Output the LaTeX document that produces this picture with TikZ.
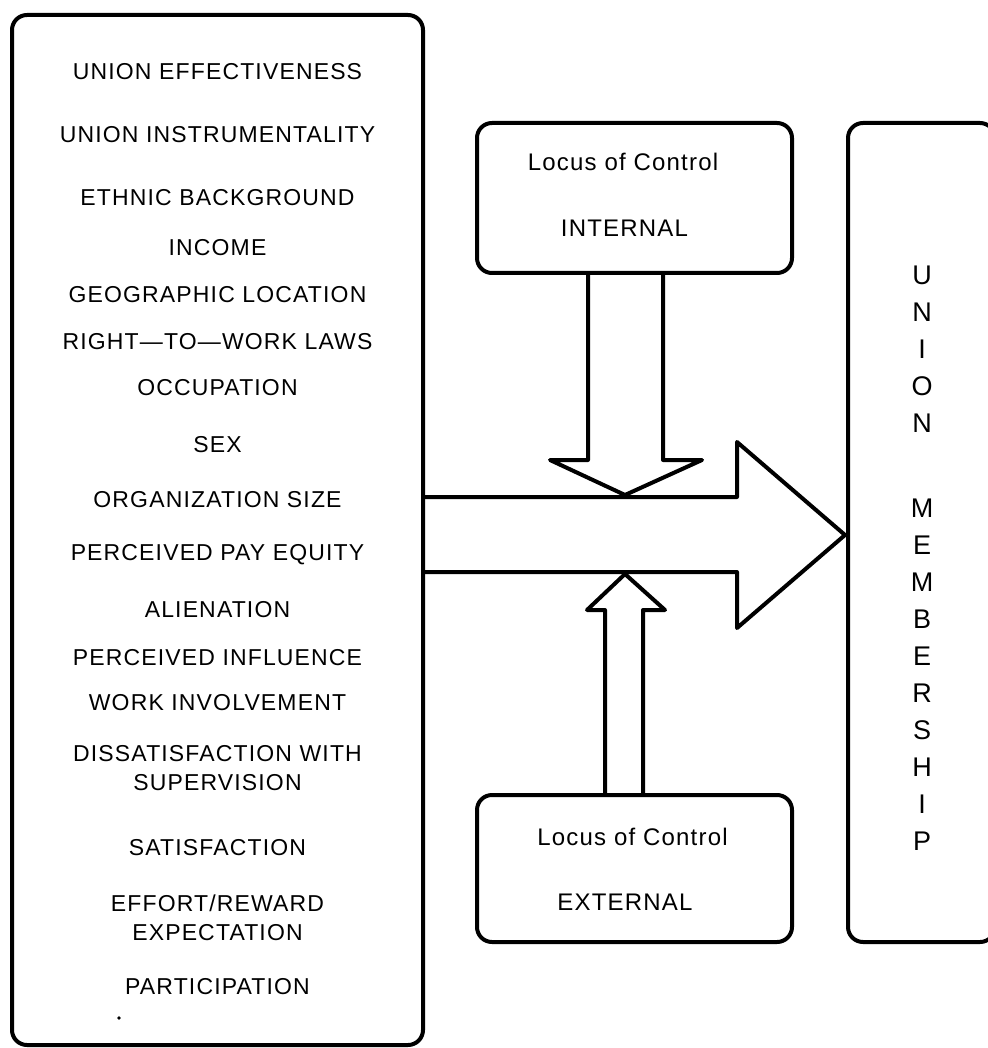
\documentclass[tikz,border=0pt]{standalone}
\usepackage{fontspec}
\setmainfont{Liberation Sans}
\newfontfamily\plotfont[LetterSpace=5]{Liberation Sans}

\begin{document}
\begin{tikzpicture}[
  x=1pt, y=-1pt,
  box/.style={draw, line width=4pt, rounded corners=15pt, inner sep=0pt},
  item/.style={font=\plotfont\fontsize{23}{29}\selectfont, align=center, inner sep=0pt},
  locus/.style={font=\plotfont\fontsize{24}{29}\selectfont, inner sep=0pt},
  blockarrow/.style={draw, line width=4pt, line join=round}
]
\useasboundingbox (0,0) rectangle (987,1048);

% Predictors
\node[box, minimum width=411pt, minimum height=1030pt] (factors) at (217.5,530) {};
\node[item] (eff) at (217.5,72) {UNION EFFECTIVENESS};
\node[item] (instr) at (217.5,135) {UNION INSTRUMENTALITY};
\node[item] (ethnic) at (217.5,198) {ETHNIC BACKGROUND};
\node[item] (income) at (217.5,248) {INCOME};
\node[item] (geo) at (217.5,295) {GEOGRAPHIC LOCATION};
\node[item] (rtw) at (217.5,342) {RIGHT—TO—WORK LAWS};
\node[item] (occ) at (217.5,388) {OCCUPATION};
\node[item] (sex) at (217.5,445) {SEX};
\node[item] (orgsize) at (217.5,500) {ORGANIZATION SIZE};
\node[item] (payeq) at (217.5,555) {PERCEIVED PAY EQUITY};
\node[item] (alien) at (217.5,610) {ALIENATION};
\node[item] (influ) at (217.5,658) {PERCEIVED INFLUENCE};
\node[item] (involv) at (217.5,703) {WORK INVOLVEMENT};
\node[item] (dissat) at (217.5,768) {DISSATISFACTION WITH\\SUPERVISION};
\node[item] (satis) at (217.5,848) {SATISFACTION};
\node[item] (effort) at (217.5,917.5) {EFFORT/REWARD\\EXPECTATION};
\node[item] (partic) at (217.5,987) {PARTICIPATION};
\fill (119,1018) circle (1.8pt);

% Locus of control
\node[box, minimum width=315pt, minimum height=150pt] (internal) at (634.5,198) {};
\node[locus] (intlabel) at (623,162) {Locus of Control};
\node[locus] (inttype) at (624.5,228) {INTERNAL};

\node[box, minimum width=315pt, minimum height=147pt] (external) at (634.5,868.5) {};
\node[locus] (extlabel) at (632.5,837) {Locus of Control};
\node[locus] (exttype) at (625,902) {EXTERNAL};

% Outcome
\node[box, minimum width=147pt, minimum height=819pt] (member) at (921.5,532.5) {};
\node[font=\plotfont\fontsize{27}{37}\selectfont, align=center, inner sep=0pt] (memlabel) at (922,558.5)
  {U\\N\\I\\O\\N\\[48pt]M\\E\\M\\B\\E\\R\\S\\H\\I\\P};

% Block arrows
\draw[blockarrow] (423,497) -- (737,497) -- (737,442) -- (845,535)
  -- (737,628) -- (737,572) -- (423,572);
\draw[blockarrow] (588,273) -- (588,460) -- (550,460) -- (625,495)
  -- (702,460) -- (663,460) -- (663,273);
\draw[blockarrow] (605,795) -- (605,610) -- (587,610) -- (625,574)
  -- (665,610) -- (643,610) -- (643,795);

\end{tikzpicture}
\end{document}
